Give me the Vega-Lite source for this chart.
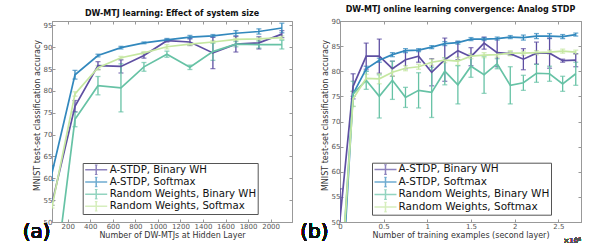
{
  "$schema": "https://vega.github.io/schema/vega-lite/v6.json",
  "padding": {"left": 22, "top": 5, "right": 0, "bottom": 0},
  "config": {
    "font": "DejaVu Sans",
    "view": {"stroke": "#999", "strokeWidth": 1},
    "axis": {
      "labelFont": "DejaVu Sans", "labelFontSize": 7, "labelColor": "#555",
      "titleFont": "DejaVu Sans", "titleFontSize": 8, "titleFontWeight": "normal", "titleColor": "#333",
      "domainColor": "#999", "tickColor": "#999", "grid": false, "tickSize": -3, "labelFlush": false
    },
    "title": {"font": "DejaVu Sans", "fontSize": 8, "fontWeight": "bold", "color": "#111", "offset": 3},
    "legend": {
      "labelFont": "DejaVu Sans", "labelColor": "#111"
    }
  },
  "datasets": {
    "a": [
      {"s": "A-STDP, Binary WH", "x": 60, "y": 54.3, "e": 0.5},
      {"s": "A-STDP, Binary WH", "x": 264, "y": 76.5, "e": 1.3},
      {"s": "A-STDP, Binary WH", "x": 468, "y": 85.8, "e": 0.9},
      {"s": "A-STDP, Binary WH", "x": 672, "y": 85.6, "e": 1.5},
      {"s": "A-STDP, Binary WH", "x": 876, "y": 88.1, "e": 0.6},
      {"s": "A-STDP, Binary WH", "x": 1080, "y": 91.5, "e": 0.3},
      {"s": "A-STDP, Binary WH", "x": 1284, "y": 91.2, "e": 0.8},
      {"s": "A-STDP, Binary WH", "x": 1488, "y": 88.7, "e": 3.6},
      {"s": "A-STDP, Binary WH", "x": 1692, "y": 90.7, "e": 1.8},
      {"s": "A-STDP, Binary WH", "x": 1896, "y": 91.0, "e": 1.4},
      {"s": "A-STDP, Binary WH", "x": 2100, "y": 93.0, "e": 0.8},
      {"s": "A-STDP, Softmax", "x": 60, "y": 61.2, "e": 1.7},
      {"s": "A-STDP, Softmax", "x": 264, "y": 83.7, "e": 1.0},
      {"s": "A-STDP, Softmax", "x": 468, "y": 88.1, "e": 0.3},
      {"s": "A-STDP, Softmax", "x": 672, "y": 89.9, "e": 0.3},
      {"s": "A-STDP, Softmax", "x": 876, "y": 91.0, "e": 0.2},
      {"s": "A-STDP, Softmax", "x": 1080, "y": 91.7, "e": 0.3},
      {"s": "A-STDP, Softmax", "x": 1284, "y": 92.3, "e": 0.4},
      {"s": "A-STDP, Softmax", "x": 1488, "y": 92.6, "e": 0.3},
      {"s": "A-STDP, Softmax", "x": 1692, "y": 93.2, "e": 0.6},
      {"s": "A-STDP, Softmax", "x": 1896, "y": 93.6, "e": 0.6},
      {"s": "A-STDP, Softmax", "x": 2100, "y": 94.4, "e": 1.1},
      {"s": "Random Weights, Binary WH", "x": 60, "y": 31.5, "e": 0.5},
      {"s": "Random Weights, Binary WH", "x": 264, "y": 73.5, "e": 1.7},
      {"s": "Random Weights, Binary WH", "x": 468, "y": 81.2, "e": 2.1},
      {"s": "Random Weights, Binary WH", "x": 672, "y": 80.7, "e": 5.5},
      {"s": "Random Weights, Binary WH", "x": 876, "y": 85.5, "e": 1.0},
      {"s": "Random Weights, Binary WH", "x": 1080, "y": 88.4, "e": 0.7},
      {"s": "Random Weights, Binary WH", "x": 1284, "y": 85.4, "e": 0.5},
      {"s": "Random Weights, Binary WH", "x": 1488, "y": 89.0, "e": 2.0},
      {"s": "Random Weights, Binary WH", "x": 1692, "y": 90.7, "e": 0.6},
      {"s": "Random Weights, Binary WH", "x": 1896, "y": 90.6, "e": 0.8},
      {"s": "Random Weights, Binary WH", "x": 2100, "y": 90.6, "e": 1.0},
      {"s": "Random Weights, Softmax", "x": 60, "y": 53.5, "e": 0.3},
      {"s": "Random Weights, Softmax", "x": 264, "y": 79.3, "e": 0.5},
      {"s": "Random Weights, Softmax", "x": 468, "y": 85.3, "e": 0.5},
      {"s": "Random Weights, Softmax", "x": 672, "y": 87.6, "e": 0.3},
      {"s": "Random Weights, Softmax", "x": 876, "y": 88.7, "e": 0.3},
      {"s": "Random Weights, Softmax", "x": 1080, "y": 90.1, "e": 0.5},
      {"s": "Random Weights, Softmax", "x": 1284, "y": 90.7, "e": 0.3},
      {"s": "Random Weights, Softmax", "x": 1488, "y": 91.2, "e": 0.3},
      {"s": "Random Weights, Softmax", "x": 1692, "y": 91.8, "e": 0.3},
      {"s": "Random Weights, Softmax", "x": 1896, "y": 91.9, "e": 0.3},
      {"s": "Random Weights, Softmax", "x": 2100, "y": 92.2, "e": 0.4}
    ],
    "b": [
      {"s": "A-STDP, Binary WH", "x": 0, "y": 50.5, "e": 6.1},
      {"s": "A-STDP, Binary WH", "x": 15000, "y": 77.0, "e": 2.5},
      {"s": "A-STDP, Binary WH", "x": 30000, "y": 83.0, "e": 2.6},
      {"s": "A-STDP, Binary WH", "x": 45000, "y": 83.0, "e": 3.4},
      {"s": "A-STDP, Binary WH", "x": 60000, "y": 80.5, "e": 1.5},
      {"s": "A-STDP, Binary WH", "x": 75000, "y": 82.3, "e": 1.8},
      {"s": "A-STDP, Binary WH", "x": 90000, "y": 83.0, "e": 1.2},
      {"s": "A-STDP, Binary WH", "x": 105000, "y": 79.8, "e": 2.7},
      {"s": "A-STDP, Binary WH", "x": 120000, "y": 82.3, "e": 4.3},
      {"s": "A-STDP, Binary WH", "x": 135000, "y": 84.1, "e": 1.8},
      {"s": "A-STDP, Binary WH", "x": 150000, "y": 82.9, "e": 1.8},
      {"s": "A-STDP, Binary WH", "x": 165000, "y": 85.6, "e": 1.2},
      {"s": "A-STDP, Binary WH", "x": 180000, "y": 83.7, "e": 2.8},
      {"s": "A-STDP, Binary WH", "x": 195000, "y": 83.5, "e": 0.3},
      {"s": "A-STDP, Binary WH", "x": 210000, "y": 82.4, "e": 2.1},
      {"s": "A-STDP, Binary WH", "x": 225000, "y": 83.6, "e": 2.2},
      {"s": "A-STDP, Binary WH", "x": 240000, "y": 83.6, "e": 3.0},
      {"s": "A-STDP, Binary WH", "x": 255000, "y": 82.1, "e": 0.3},
      {"s": "A-STDP, Binary WH", "x": 270000, "y": 82.2, "e": 1.3},
      {"s": "A-STDP, Softmax", "x": 0, "y": 30.0, "e": 0.5},
      {"s": "A-STDP, Softmax", "x": 15000, "y": 75.5, "e": 0.5},
      {"s": "A-STDP, Softmax", "x": 30000, "y": 80.5, "e": 0.5},
      {"s": "A-STDP, Softmax", "x": 45000, "y": 82.2, "e": 0.4},
      {"s": "A-STDP, Softmax", "x": 60000, "y": 83.3, "e": 0.4},
      {"s": "A-STDP, Softmax", "x": 75000, "y": 84.1, "e": 0.4},
      {"s": "A-STDP, Softmax", "x": 90000, "y": 84.2, "e": 0.3},
      {"s": "A-STDP, Softmax", "x": 105000, "y": 84.8, "e": 0.3},
      {"s": "A-STDP, Softmax", "x": 120000, "y": 85.5, "e": 0.4},
      {"s": "A-STDP, Softmax", "x": 135000, "y": 85.7, "e": 0.3},
      {"s": "A-STDP, Softmax", "x": 150000, "y": 86.4, "e": 0.3},
      {"s": "A-STDP, Softmax", "x": 165000, "y": 86.4, "e": 0.3},
      {"s": "A-STDP, Softmax", "x": 180000, "y": 86.5, "e": 0.3},
      {"s": "A-STDP, Softmax", "x": 195000, "y": 86.8, "e": 0.3},
      {"s": "A-STDP, Softmax", "x": 210000, "y": 86.7, "e": 0.5},
      {"s": "A-STDP, Softmax", "x": 225000, "y": 87.0, "e": 0.5},
      {"s": "A-STDP, Softmax", "x": 240000, "y": 87.0, "e": 0.5},
      {"s": "A-STDP, Softmax", "x": 255000, "y": 86.9, "e": 0.4},
      {"s": "A-STDP, Softmax", "x": 270000, "y": 87.3, "e": 0.3},
      {"s": "Random Weights, Binary WH", "x": 0, "y": 35.0, "e": 0.5},
      {"s": "Random Weights, Binary WH", "x": 15000, "y": 75.5, "e": 2.5},
      {"s": "Random Weights, Binary WH", "x": 30000, "y": 78.2, "e": 1.8},
      {"s": "Random Weights, Binary WH", "x": 45000, "y": 75.0, "e": 4.3},
      {"s": "Random Weights, Binary WH", "x": 60000, "y": 78.2, "e": 3.8},
      {"s": "Random Weights, Binary WH", "x": 75000, "y": 74.8, "e": 2.0},
      {"s": "Random Weights, Binary WH", "x": 90000, "y": 76.2, "e": 3.5},
      {"s": "Random Weights, Binary WH", "x": 105000, "y": 75.8, "e": 5.0},
      {"s": "Random Weights, Binary WH", "x": 120000, "y": 80.0, "e": 2.7},
      {"s": "Random Weights, Binary WH", "x": 135000, "y": 77.3, "e": 3.8},
      {"s": "Random Weights, Binary WH", "x": 150000, "y": 81.0, "e": 2.2},
      {"s": "Random Weights, Binary WH", "x": 165000, "y": 79.3, "e": 3.7},
      {"s": "Random Weights, Binary WH", "x": 180000, "y": 81.5, "e": 1.0},
      {"s": "Random Weights, Binary WH", "x": 195000, "y": 77.2, "e": 3.7},
      {"s": "Random Weights, Binary WH", "x": 210000, "y": 77.7, "e": 1.5},
      {"s": "Random Weights, Binary WH", "x": 225000, "y": 79.6, "e": 1.8},
      {"s": "Random Weights, Binary WH", "x": 240000, "y": 79.5, "e": 1.5},
      {"s": "Random Weights, Binary WH", "x": 255000, "y": 77.5, "e": 1.5},
      {"s": "Random Weights, Binary WH", "x": 270000, "y": 79.5, "e": 2.3},
      {"s": "Random Weights, Softmax", "x": 0, "y": 35.0, "e": 0.5},
      {"s": "Random Weights, Softmax", "x": 15000, "y": 74.5, "e": 1.5},
      {"s": "Random Weights, Softmax", "x": 30000, "y": 78.6, "e": 0.8},
      {"s": "Random Weights, Softmax", "x": 45000, "y": 78.5, "e": 1.0},
      {"s": "Random Weights, Softmax", "x": 60000, "y": 79.8, "e": 0.8},
      {"s": "Random Weights, Softmax", "x": 75000, "y": 80.6, "e": 0.5},
      {"s": "Random Weights, Softmax", "x": 90000, "y": 80.9, "e": 0.5},
      {"s": "Random Weights, Softmax", "x": 105000, "y": 81.8, "e": 0.6},
      {"s": "Random Weights, Softmax", "x": 120000, "y": 82.2, "e": 0.5},
      {"s": "Random Weights, Softmax", "x": 135000, "y": 82.0, "e": 0.8},
      {"s": "Random Weights, Softmax", "x": 150000, "y": 83.0, "e": 0.5},
      {"s": "Random Weights, Softmax", "x": 165000, "y": 83.2, "e": 0.5},
      {"s": "Random Weights, Softmax", "x": 180000, "y": 83.3, "e": 0.5},
      {"s": "Random Weights, Softmax", "x": 195000, "y": 83.6, "e": 0.5},
      {"s": "Random Weights, Softmax", "x": 210000, "y": 83.6, "e": 0.4},
      {"s": "Random Weights, Softmax", "x": 225000, "y": 83.7, "e": 0.4},
      {"s": "Random Weights, Softmax", "x": 240000, "y": 83.8, "e": 0.4},
      {"s": "Random Weights, Softmax", "x": 255000, "y": 84.0, "e": 0.4},
      {"s": "Random Weights, Softmax", "x": 270000, "y": 83.8, "e": 0.4}
    ]
  },
  "bounds": "flush",
  "spacing": 48,
  "resolve": {"scale": {"color": "independent"}, "legend": {"color": "independent"}},
  "hconcat": [
    {
      "width": 240, "height": 201,
      "title": "DW-MTJ learning: Effect of system size",
      "data": {"name": "a"},
      "resolve": {"axis": {"x": "independent", "y": "independent"}},
      "layer": [
        {
          "mark": {"type": "errorbar", "ticks": {"size": 5, "thickness": 1.3}, "thickness": 1.3, "clip": true},
          "encoding": {
            "x": {"field": "x", "type": "quantitative", "scale": {"domain": [60, 2190], "nice": false, "zero": false}, "axis": null},
            "y": {"field": "y", "type": "quantitative", "scale": {"domain": [50, 96], "nice": false, "zero": false}, "axis": null},
            "yError": {"field": "e"},
            "color": {"field": "s", "type": "nominal",
              "scale": {"domain": ["A-STDP, Binary WH", "A-STDP, Softmax", "Random Weights, Binary WH", "Random Weights, Softmax"], "range": ["#5e4fa2", "#3288bd", "#66c2a5", "#c5e7a1"]},
              "legend": {"orient": "none", "legendX": 30.7, "legendY": 142, "title": null,
                "symbolType": "M-1,0H1M0,-0.45V0.45M-0.12,-0.45H0.12M-0.12,0.45H0.12", "symbolSize": 484, "symbolStrokeWidth": 1.5,
                "labelFontSize": 10.2, "labelOffset": 1.5, "rowPadding": 1.2, "clipHeight": 10.5, "padding": 1.5,
                "strokeColor": "#555", "fillColor": "white",
                "labelExpr": "indexof(datum.label, 'Random') == 0 ? '\u00a0' + datum.label : datum.label"}
            }
          }
        },
        {
          "mark": {"type": "line", "strokeWidth": 1.7, "clip": true},
          "encoding": {
            "x": {"field": "x", "type": "quantitative", "scale": {"domain": [60, 2190], "nice": false, "zero": false},
              "axis": {"orient": "bottom", "values": [200, 400, 600, 800, 1000, 1200, 1400, 1600, 1800, 2000], "format": "d", "title": "Number of DW-MTJs at Hidden Layer", "labelPadding": 3, "titlePadding": 2}},
            "y": {"field": "y", "type": "quantitative", "scale": {"domain": [50, 96], "nice": false, "zero": false},
              "axis": {"orient": "left", "values": [50, 55, 60, 65, 70, 75, 80, 85, 90, 95], "title": "MNIST test-set classification accuracy", "labelPadding": 3, "titlePadding": 2, "titleY": 94}},
            "color": {"field": "s", "type": "nominal",
              "scale": {"domain": ["A-STDP, Binary WH", "A-STDP, Softmax", "Random Weights, Binary WH", "Random Weights, Softmax"], "range": ["#5e4fa2", "#3288bd", "#66c2a5", "#c5e7a1"]},
              "legend": {"orient": "none", "legendX": 30.7, "legendY": 142, "title": null,
                "symbolType": "M-1,0H1M0,-0.45V0.45M-0.12,-0.45H0.12M-0.12,0.45H0.12", "symbolSize": 484, "symbolStrokeWidth": 1.5,
                "labelFontSize": 10.2, "labelOffset": 1.5, "rowPadding": 1.2, "clipHeight": 10.5, "padding": 1.5,
                "strokeColor": "#555", "fillColor": "white",
                "labelExpr": "indexof(datum.label, 'Random') == 0 ? '\u00a0' + datum.label : datum.label"}
            }
          }
        },
        {
          "mark": {"type": "point", "opacity": 0, "clip": true},
          "encoding": {
            "x": {"field": "x", "type": "quantitative", "scale": {"domain": [60, 2190], "nice": false, "zero": false},
              "axis": {"orient": "top", "values": [200, 400, 600, 800, 1000, 1200, 1400, 1600, 1800, 2000], "labels": false, "title": null}},
            "y": {"field": "y", "type": "quantitative", "scale": {"domain": [50, 96], "nice": false, "zero": false},
              "axis": {"orient": "right", "values": [50, 55, 60, 65, 70, 75, 80, 85, 90, 95], "labels": false, "title": null}}
          }
        },
        {
          "mark": {"type": "text", "text": "(a)", "fontSize": 20, "font": "DejaVu Sans", "color": "#111", "align": "center", "baseline": "alphabetic", "clip": false},
          "encoding": {
            "x": {"datum": -76, "type": "quantitative", "scale": {"domain": [60, 2190], "nice": false, "zero": false}, "axis": null},
            "y": {"datum": 46.35, "type": "quantitative", "scale": {"domain": [50, 96], "nice": false, "zero": false}, "axis": null}
          }
        }
      ]
    },
    {
      "width": 241, "height": 201,
      "title": "DW-MTJ online learning convergence: Analog STDP",
      "data": {"name": "b"},
      "resolve": {"axis": {"x": "independent", "y": "independent"}},
      "layer": [
        {
          "mark": {"type": "errorbar", "ticks": {"size": 5, "thickness": 1.3}, "thickness": 1.3, "clip": true},
          "encoding": {
            "x": {"field": "x", "type": "quantitative", "scale": {"domain": [0, 276000], "nice": false, "zero": false}, "axis": null},
            "y": {"field": "y", "type": "quantitative", "scale": {"domain": [50, 90], "nice": false, "zero": false}, "axis": null},
            "yError": {"field": "e"},
            "color": {"field": "s", "type": "nominal",
              "scale": {"domain": ["A-STDP, Binary WH", "A-STDP, Softmax", "Random Weights, Binary WH", "Random Weights, Softmax"], "range": ["#5e4fa2", "#3288bd", "#66c2a5", "#c5e7a1"]},
              "legend": {"orient": "none", "legendX": 32, "legendY": 141.7, "title": null,
                "symbolType": "M-1,0H1M0,-0.45V0.45M-0.12,-0.45H0.12M-0.12,0.45H0.12", "symbolSize": 484, "symbolStrokeWidth": 1.5,
                "labelFontSize": 10.5, "labelOffset": 1, "rowPadding": 1.5, "clipHeight": 10.5, "padding": 1.5,
                "strokeColor": "#555", "fillColor": "white",
                "labelExpr": "indexof(datum.label, 'Random') == 0 ? '\u00a0' + datum.label : datum.label"}
            }
          }
        },
        {
          "mark": {"type": "line", "strokeWidth": 1.7, "clip": true},
          "encoding": {
            "x": {"field": "x", "type": "quantitative", "scale": {"domain": [0, 276000], "nice": false, "zero": false},
              "axis": {"orient": "bottom", "values": [0, 50000, 100000, 150000, 200000, 250000], "labelExpr": "datum.value / 100000", "title": "Number of training examples (second layer)", "labelPadding": 3, "titlePadding": 2}},
            "y": {"field": "y", "type": "quantitative", "scale": {"domain": [50, 90], "nice": false, "zero": false},
              "axis": {"orient": "left", "values": [50, 55, 60, 65, 70, 75, 80, 85, 90], "title": "MNIST test-set classification accuracy", "labelPadding": 3, "titlePadding": 2, "titleY": 94}},
            "color": {"field": "s", "type": "nominal",
              "scale": {"domain": ["A-STDP, Binary WH", "A-STDP, Softmax", "Random Weights, Binary WH", "Random Weights, Softmax"], "range": ["#5e4fa2", "#3288bd", "#66c2a5", "#c5e7a1"]},
              "legend": {"orient": "none", "legendX": 32, "legendY": 141.7, "title": null,
                "symbolType": "M-1,0H1M0,-0.45V0.45M-0.12,-0.45H0.12M-0.12,0.45H0.12", "symbolSize": 484, "symbolStrokeWidth": 1.5,
                "labelFontSize": 10.5, "labelOffset": 1, "rowPadding": 1.5, "clipHeight": 10.5, "padding": 1.5,
                "strokeColor": "#555", "fillColor": "white",
                "labelExpr": "indexof(datum.label, 'Random') == 0 ? '\u00a0' + datum.label : datum.label"}
            }
          }
        },
        {
          "mark": {"type": "point", "opacity": 0, "clip": true},
          "encoding": {
            "x": {"field": "x", "type": "quantitative", "scale": {"domain": [0, 276000], "nice": false, "zero": false},
              "axis": {"orient": "top", "values": [0, 50000, 100000, 150000, 200000, 250000], "labels": false, "title": null}},
            "y": {"field": "y", "type": "quantitative", "scale": {"domain": [50, 90], "nice": false, "zero": false},
              "axis": {"orient": "right", "values": [50, 55, 60, 65, 70, 75, 80, 85, 90], "labels": false, "title": null}}
          }
        },
        {
          "mark": {"type": "text", "text": "(b)", "fontSize": 20, "font": "DejaVu Sans", "color": "#111", "align": "center", "baseline": "alphabetic", "clip": false},
          "encoding": {
            "x": {"datum": -29270, "type": "quantitative", "scale": {"domain": [0, 276000], "nice": false, "zero": false}, "axis": null},
            "y": {"datum": 46.8, "type": "quantitative", "scale": {"domain": [50, 90], "nice": false, "zero": false}, "axis": null}
          }
        },
        {
          "mark": {"type": "text", "text": "×10⁵", "fontSize": 7, "font": "DejaVu Sans", "color": "#555", "align": "right", "baseline": "alphabetic", "clip": false},
          "encoding": {
            "x": {"datum": 276000, "type": "quantitative", "scale": {"domain": [0, 276000], "nice": false, "zero": false}, "axis": null},
            "y": {"datum": 45.9, "type": "quantitative", "scale": {"domain": [50, 90], "nice": false, "zero": false}, "axis": null}
          }
        }
      ]
    }
  ]
}
